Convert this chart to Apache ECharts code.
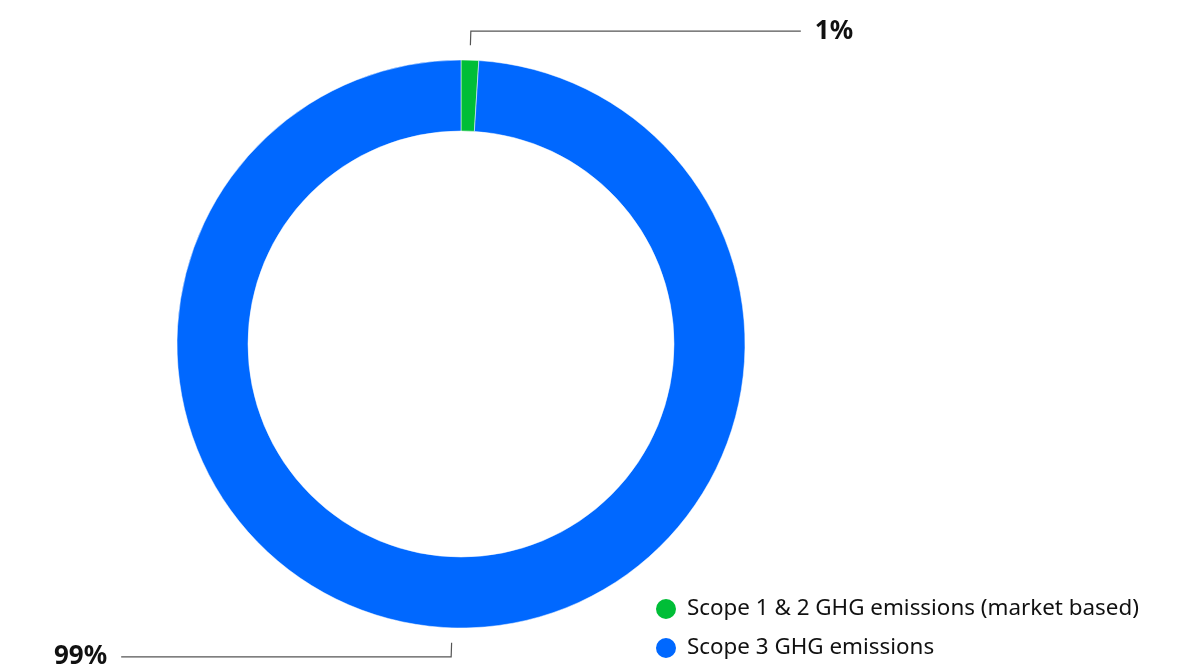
<!DOCTYPE html>
<html>
<head>
<meta charset="utf-8">
<style>
  html, body { margin: 0; padding: 0; background: #ffffff; }
  #chart { width: 1189px; height: 665px; }
</style>
<script src="https://cdn.jsdelivr.net/npm/echarts@6/dist/echarts.min.js"></script>
</head>
<body>
<div id="chart"></div>
<script>
// Share of GHG emissions by scope
const categories = ['Scope 1 & 2 GHG emissions (market based)', 'Scope 3 GHG emissions'];
const shares = [1, 99];
const colors = ['#00BE37', '#0068FF'];

const FONT = '"Noto Sans", "Open Sans", sans-serif';
const pieData = categories.map((name, i) => ({ name, value: shares[i] }));
const CENTER = [461, 344];

const chart = echarts.init(document.getElementById('chart'), null, { renderer: 'canvas' });
chart.setOption({
  backgroundColor: '#ffffff',
  animation: false,
  color: colors,
  legend: {
    orient: 'vertical',
    left: 654,
    top: 597,
    padding: 0,
    icon: 'circle',
    itemWidth: 32,
    itemHeight: 22,
    itemGap: 15,
    selectedMode: false,
    textStyle: { fontFamily: FONT, fontSize: 22.4, color: '#111111' },
    data: categories
  },
  series: [
    {
      // the donut ring itself
      type: 'pie',
      left: 0, top: 0, width: 1189, height: 800,
      center: CENTER,
      radius: [213, 284],
      startAngle: 90,
      clockwise: true,
      silent: true,
      label: { show: false },
      labelLine: { show: false },
      itemStyle: { borderColor: '#ffffff', borderWidth: 0.5 },
      data: pieData
    },
    {
      // percentage callouts, offset slightly outside the ring
      type: 'pie',
      left: 0, top: 0, width: 1189, height: 800,
      center: CENTER,
      radius: [284, 299],
      startAngle: 90,
      clockwise: true,
      silent: true,
      itemStyle: { color: 'rgba(0,0,0,0)' },
      label: {
        show: true,
        position: 'outside',
        formatter: '{d}%',
        fontFamily: FONT,
        fontSize: 26,
        fontWeight: 'bold',
        color: '#111111',
        distanceToLabelLine: 14
      },
      labelLine: {
        show: true,
        length: 14,
        length2: 330,
        lineStyle: { color: '#555555', width: 1.2 }
      },
      emphasis: { disabled: true },
      data: pieData
    }
  ]
});
</script>
</body>
</html>
